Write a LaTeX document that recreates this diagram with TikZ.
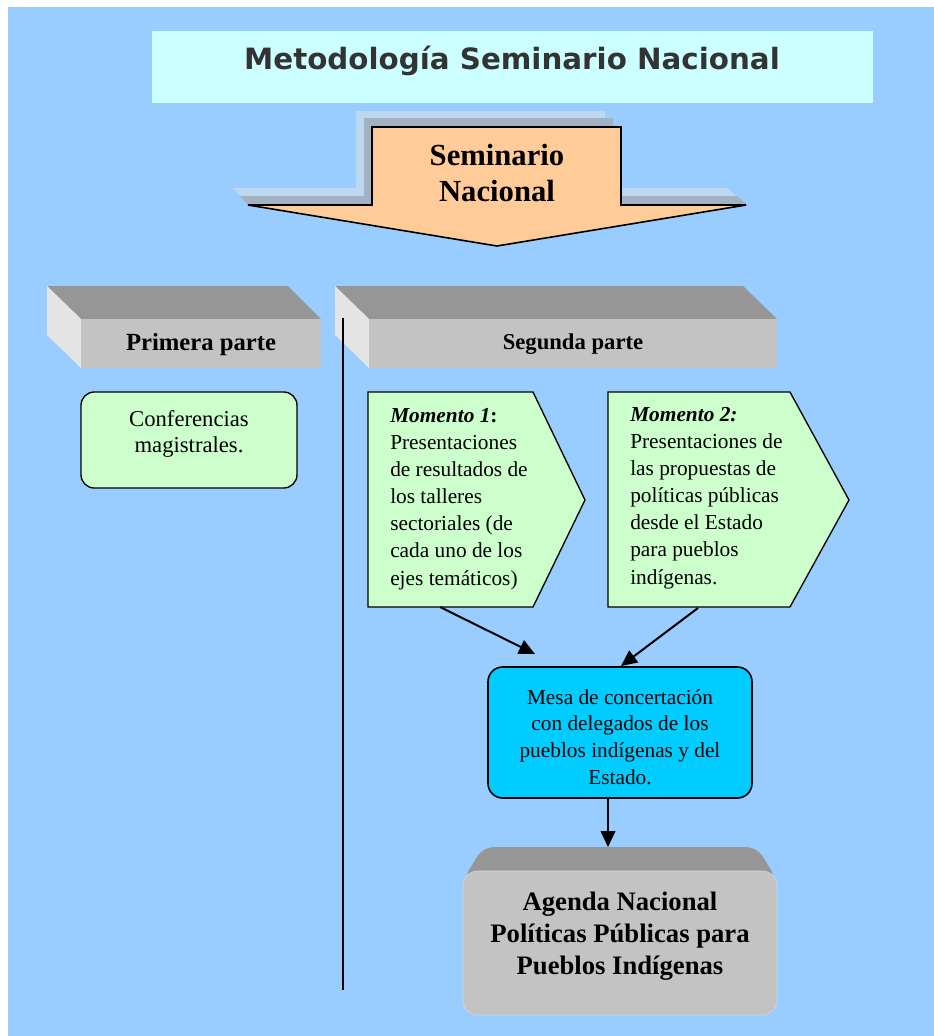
\documentclass[tikz,border=0pt]{standalone}
\usepackage{fontspec}
\setmainfont{Liberation Serif}
\newfontfamily\headfont{DejaVu Sans}
\usetikzlibrary{arrows.meta}

\definecolor{fondo}{HTML}{99CCFF}
\definecolor{titulo}{HTML}{CCFFFF}
\definecolor{naranja}{HTML}{FFCC99}
\definecolor{verde}{HTML}{CCFFCC}
\definecolor{celeste}{HTML}{00CCFF}
\definecolor{sombraclara}{HTML}{BDD7EE}
\definecolor{sombraoscura}{HTML}{A2B2C2}
\definecolor{caraarriba}{HTML}{969696}
\definecolor{carafrente}{HTML}{C3C3C3}
\definecolor{caralado}{HTML}{E4E4E4}

\tikzset{
  momento/.style={draw=black, line width=1pt, fill=verde},
  cajaverde/.style={draw=black, line width=1pt, fill=verde, rounded corners=10pt},
  textomomento/.style={anchor=base west, inner sep=0pt, align=left,
    font=\fontsize{16}{20.3}\selectfont},
  flecha/.style={line width=1.5pt, -{Triangle[length=12pt,width=11pt]}},
}

\begin{document}
\begin{tikzpicture}[x=0.75pt,y=-0.75pt]
\useasboundingbox (0,0) rectangle (934,1036);
% we draw the background
\fill[white] (0,0) rectangle (934,1036);
\fill[fondo] (8,7) rectangle (934,1036);

% title
\fill[titulo] (152,31) rectangle (873,103);
\node (titulo) [font=\headfont\bfseries\fontsize{22}{26}\selectfont, text=black!80] at (512,61)
  {Metodología Seminario Nacional};

% the big arrow with its shadows
\fill[sombraclara] (356,111) -- (605,111) -- (605,188) -- (727,188) -- (748,205)
  -- (248,205) -- (233,188) -- (356,188) -- cycle;
\fill[sombraoscura] (364,118) -- (613,118) -- (613,196) -- (737,196) -- (748,205)
  -- (248,205) -- (240,196) -- (364,196) -- cycle;
\draw[fill=naranja, line width=1.2pt] (372,127) -- (621,127) -- (621,205) -- (746,205)
  -- (497,246) -- (248,205) -- (372,205) -- cycle;
\node (seminario) [align=center, font=\bfseries\fontsize{23}{26.5}\selectfont] at (497,173)
  {Seminario\\Nacional};

% first part
\fill[caraarriba] (47,286) -- (288,286) -- (321,319) -- (81,319) -- cycle;
\fill[caralado] (47,286) -- (81,319) -- (81,368) -- (47,335) -- cycle;
\fill[carafrente] (81,319) rectangle (321,368);
\node (primera) [font=\bfseries\fontsize{18.5}{22}\selectfont] at (201,345) {Primera parte};

% second part
\fill[caraarriba] (335,286) -- (743,286) -- (777,319) -- (369,319) -- cycle;
\fill[caralado] (335,286) -- (369,319) -- (369,368) -- (335,335) -- cycle;
\fill[carafrente] (369,319) rectangle (777,368);
\node (segunda) [font=\bfseries\fontsize{17}{20}\selectfont] at (573,344) {Segunda parte};

% the long line
\coordinate (lineaarriba) at (343,318);
\coordinate (lineaabajo) at (343,990);
\draw[line width=1.2pt] (lineaarriba) -- (lineaabajo);

% lectures
\draw[cajaverde] (81,392) rectangle (297,488);
\node (conferencias) [align=center, font=\fontsize{17}{19.5}\selectfont] at (189,434)
  {Conferencias\\magistrales.};

% moments
\draw[momento] (368,392) -- (533,392) -- (585,500) -- (533,607) -- (368,607) -- cycle;
\node (momento1) [textomomento] at (390,585)
  {\textbf{\textit{Momento 1}}\textbf{:}\\Presentaciones\\de resultados de\\los talleres\\
   sectoriales (de\\cada uno de los\\ejes temáticos)};
\draw[momento] (608,392) -- (790,392) -- (849,500) -- (790,607) -- (608,607) -- cycle;
\node (momento2) [textomomento] at (630,584)
  {\textbf{\textit{Momento 2:}}\\Presentaciones de\\las propuestas de\\políticas públicas\\
   desde el Estado\\para pueblos\\indígenas.};

% round table
\draw[fill=celeste, line width=1.2pt, rounded corners=11pt] (488,667) rectangle (752,798);
\node (mesa) [align=center, font=\fontsize{16}{20}\selectfont] at (620,737)
  {Mesa de concertación\\con delegados de los\\pueblos indígenas y del\\Estado.};

% the agenda
\fill[caraarriba, rounded corners=8pt] (483,847) -- (757,847) -- (777,880) -- (463,880) -- cycle;
\draw[fill=carafrente, draw=black!15, rounded corners=11pt] (463,871) rectangle (777,1015);
\node (agenda) [align=center, font=\bfseries\fontsize{20}{24}\selectfont] at (620,936)
  {Agenda Nacional\\Políticas Públicas para\\Pueblos Indígenas};

% arrows
\coordinate (sale1) at (440,607);
\coordinate (llega1) at (535,654);
\coordinate (sale2) at (698,608);
\coordinate (llega2) at (621,666);
\coordinate (salemesa) at (608,798);
\coordinate (llegaagenda) at (608,847);
\draw[flecha] (sale1) -- (llega1);
\draw[flecha] (sale2) -- (llega2);
\draw[flecha] (salemesa) -- (llegaagenda);

\end{tikzpicture}
\end{document}
